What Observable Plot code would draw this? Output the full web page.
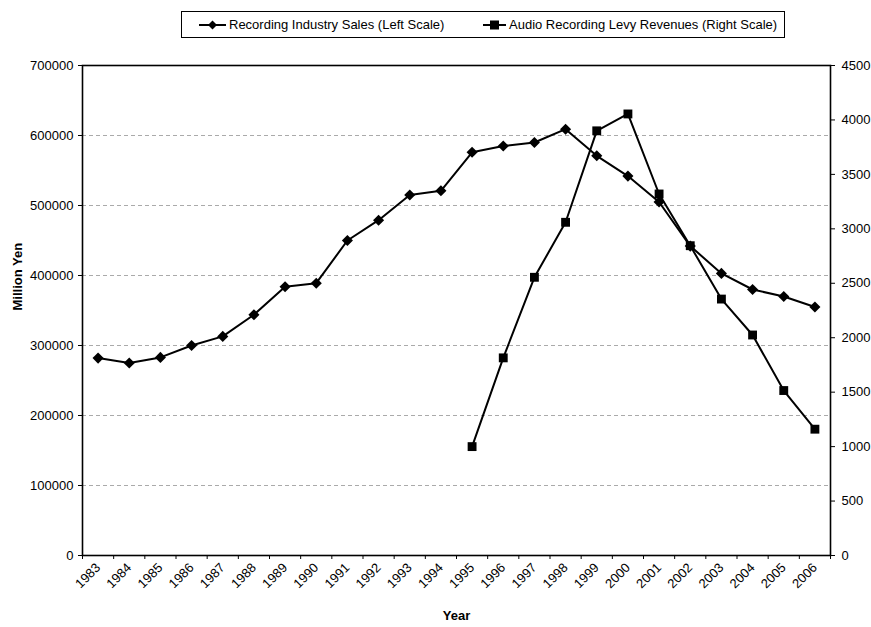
<!DOCTYPE html>
<html>
<head>
<meta charset="utf-8">
<script src="https://cdn.jsdelivr.net/npm/d3@7"></script>
<script src="https://cdn.jsdelivr.net/npm/@observablehq/plot@0.6"></script>
<style>
  html, body { margin: 0; padding: 0; background: #fff; }
  #wrap { position: relative; width: 871px; height: 627px; font-family: "Liberation Sans", Arial, sans-serif; }
  #legend { position: absolute; left: 181px; top: 11px; width: 602px; height: 25px; border: 1px solid #000; background: #fff; font-size: 13px; color: #000; }
  #legend .item { position: absolute; top: 0; height: 25px; display: flex; align-items: center; white-space: nowrap; }
  #legend svg { margin-right: 3px; }
</style>
</head>
<body>
<div id="wrap">
  <div id="chart"></div>
  <div id="legend">
    <div class="item" style="left:17px">
      <svg width="27" height="12"><line x1="0" y1="6" x2="27" y2="6" stroke="#000" stroke-width="2"/><path d="M13.5 1.5 L18 6 L13.5 10.5 L9 6 Z" fill="#000"/></svg>
      <span>Recording Industry Sales (Left Scale)</span>
    </div>
    <div class="item" style="left:301px">
      <svg width="23" height="12"><line x1="0" y1="6" x2="23" y2="6" stroke="#000" stroke-width="2"/><rect x="7" y="1.5" width="9" height="9" fill="#000"/></svg>
      <span>Audio Recording Levy Revenues (Right Scale)</span>
    </div>
  </div>
</div>
<script>
const years = [1983,1984,1985,1986,1987,1988,1989,1990,1991,1992,1993,1994,1995,1996,1997,1998,1999,2000,2001,2002,2003,2004,2005,2006];
const salesValues = [282000,275000,283000,300000,313000,344000,384000,389000,450000,479000,515000,521000,576000,585000,590000,609000,571000,542000,505000,442000,403000,380000,370000,355000];
const levyYears = [1995,1996,1997,1998,1999,2000,2001,2002,2003,2004,2005,2006];
const levyValues = [1000,1815,2555,3060,3900,4055,3320,2845,2355,2025,1515,1160];
const leftTicks = [0,100000,200000,300000,400000,500000,600000,700000];
const rightTicks = [0,500,1000,1500,2000,2500,3000,3500,4000,4500];

const leftMax = 700000, rightMax = 4500;
const k = leftMax / rightMax;

const sales = years.map((y, i) => ({year: y, value: salesValues[i]}));
const levy = levyYears.map((y, i) => ({year: y, value: levyValues[i] * k}));
const boundaries = [years[0] - 0.5, ...years.map(y => y + 0.5)];

const font = "Liberation Sans, Arial, sans-serif";

const chart = Plot.plot({
  width: 871,
  height: 627,
  marginLeft: 82,
  marginRight: 41,
  marginTop: 65,
  marginBottom: 72,
  style: {fontFamily: font, fontSize: "13px", color: "#000", background: "#fff"},
  x: {type: "linear", domain: [years[0] - 0.5, years[years.length - 1] + 0.5], axis: null},
  y: {domain: [0, leftMax], axis: null},
  marks: [
    Plot.ruleY(leftTicks.slice(1), {stroke: "#aaa", strokeWidth: 1, strokeDasharray: "4,3"}),
    Plot.frame({stroke: "#000", strokeWidth: 1.6}),
    Plot.axisY(leftTicks, {anchor: "left", tickSize: 4, tickPadding: 5, tickFormat: d => String(d), label: null, fontSize: 13}),
    Plot.axisY(rightTicks.map(v => v * k), {anchor: "right", tickSize: 4, tickPadding: 7, tickFormat: d => String(Math.round(d / k)), label: null, fontSize: 13}),
    Plot.axisX(boundaries, {anchor: "bottom", tickSize: 4, tickFormat: () => "", label: null}),
    Plot.axisX(years, {anchor: "bottom", tickSize: 0, tickRotate: -45, tickPadding: 10, tickFormat: d => String(d), label: null, fontSize: 13}),
    Plot.line(sales, {x: "year", y: "value", stroke: "#000", strokeWidth: 2}),
    Plot.dot(sales, {x: "year", y: "value", symbol: "diamond2", r: 5, fill: "#000", stroke: "none"}),
    Plot.line(levy, {x: "year", y: "value", stroke: "#000", strokeWidth: 2}),
    Plot.dot(levy, {x: "year", y: "value", symbol: "square", r: 5, fill: "#000", stroke: "none"}),
    Plot.text(["Million Yen"], {frameAnchor: "left", dx: -65, rotate: -90, fontWeight: "bold", fontSize: 13, fill: "#000"}),
    Plot.text(["Year"], {frameAnchor: "bottom", dy: 64, fontWeight: "bold", fontSize: 13, fill: "#000"})
  ]
});
document.getElementById("chart").appendChild(chart);
</script>
</body>
</html>
